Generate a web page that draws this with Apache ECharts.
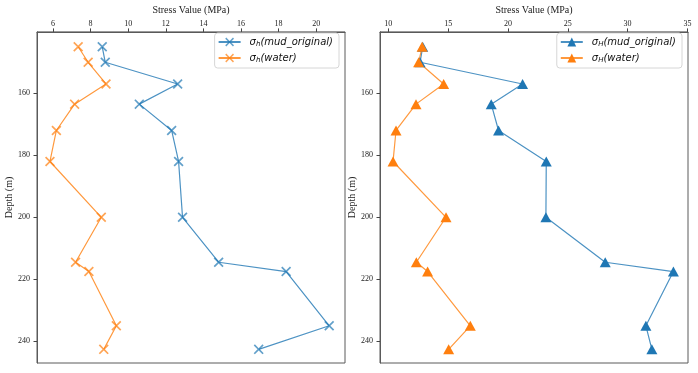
<!DOCTYPE html>
<html>
<head>
<meta charset="utf-8">
<script src="https://cdn.jsdelivr.net/npm/echarts@6/dist/echarts.min.js"></script>
<style>
  html, body { margin: 0; padding: 0; background: #fff; }
  #main { width: 698px; height: 373px; }
</style>
</head>
<body>
<div id="main"></div>
<script>
// depths (m) and stress values (MPa)
var depth = [145, 150, 157, 163.5, 172, 182, 200, 214.5, 217.5, 235, 242.6];
var shMud = [8.62, 8.78, 12.63, 10.59, 12.31, 12.68, 12.89, 14.81, 18.40, 20.69, 16.94];
var shWater = [7.34, 7.87, 8.82, 7.15, 6.18, 5.84, 8.57, 7.20, 7.91, 9.37, 8.70];
var bigHMud = [12.87, 12.65, 21.22, 18.6, 19.21, 23.2, 23.17, 28.13, 33.83, 31.53, 32.03];
var bigHWater = [12.82, 12.53, 14.62, 12.31, 10.64, 10.39, 14.82, 12.34, 13.28, 16.85, 15.04];

var depthTicks = [160, 180, 200, 220, 240];
var leftTicks = [6, 8, 10, 12, 14, 16, 18, 20];
var rightTicks = [10, 15, 20, 25, 30, 35];

var legendText = {
  sh_mud: 'σ{s|h}(mud_original)',
  sh_water: 'σ{s|h}(water)',
  sH_mud: 'σ{s|H}(mud_original)',
  sH_water: 'σ{s|H}(water)'
};

function pairs(xs) {
  return xs.map(function (v, i) { return [v, depth[i]]; });
}

var serif = 'Liberation Serif, Times New Roman, serif';
var frame = '#5a5a5a';
var blue = '#1f77b4', orange = '#ff7f0e';
var xMark = 'path://M0,1.2L1.2,0L5,3.8L8.8,0L10,1.2L6.2,5L10,8.8L8.8,10L5,6.2L1.2,10L0,8.8L3.8,5Z';

function xAxisOf(idx, min, max, ticks) {
  return {
    gridIndex: idx, type: 'value', position: 'top', min: min, max: max,
    name: 'Stress Value (MPa)', nameLocation: 'middle', nameGap: 16,
    nameTextStyle: { fontFamily: serif, fontSize: 10, color: '#222' },
    axisLine: { show: true, lineStyle: { color: frame, width: 1 } },
    axisTick: { show: true, length: 3.5, lineStyle: { color: '#444' }, customValues: ticks },
    axisLabel: { fontFamily: serif, fontSize: 8, color: '#222', margin: 4, customValues: ticks },
    splitLine: { show: false }
  };
}

function yAxisOf(idx) {
  return {
    gridIndex: idx, type: 'value', inverse: true, min: 140.2, max: 247,
    name: 'Depth (m)', nameLocation: 'middle', nameGap: 22, nameRotate: 90,
    nameTextStyle: { fontFamily: serif, fontSize: 10, color: '#222' },
    axisLine: { show: true, lineStyle: { color: frame, width: 1 } },
    axisTick: { show: true, length: 3.5, lineStyle: { color: '#444' }, customValues: depthTicks },
    axisLabel: { fontFamily: serif, fontSize: 8, color: '#222', margin: 7, customValues: depthTicks },
    splitLine: { show: false }
  };
}

function legendOf(names, right) {
  return {
    data: names, orient: 'vertical', top: 33, right: right,
    itemWidth: 22, itemHeight: 11, itemGap: 5,
    padding: [4, 6, 4, 3],
    backgroundColor: '#fff', borderColor: '#d6d6d6', borderWidth: 1, borderRadius: 3,
    formatter: function (n) { return legendText[n]; },
    textStyle: {
      fontFamily: 'DejaVu Sans', fontStyle: 'italic', fontSize: 10, color: '#111',
      padding: [0, 0, 0, 4],
      rich: { s: { fontFamily: 'DejaVu Sans', fontStyle: 'italic', fontSize: 7, verticalAlign: 'bottom', padding: [5, 0, 0, 0] } }
    }
  };
}

var myChart = echarts.init(document.getElementById('main'), null, { renderer: 'canvas' });
var option = {
  animation: false,
  backgroundColor: '#fff',
  grid: [
    { left: 37, right: 353, top: 28, bottom: 10, show: true, borderColor: frame, borderWidth: 1 },
    { left: 380, right: 10, top: 28, bottom: 10, show: true, borderColor: frame, borderWidth: 1 }
  ],
  xAxis: [xAxisOf(0, 5.15, 21.53, leftTicks), xAxisOf(1, 9.3, 35.05, rightTicks)],
  yAxis: [yAxisOf(0), yAxisOf(1)],
  legend: [legendOf(['sh_mud', 'sh_water'], 359), legendOf(['sH_mud', 'sH_water'], 16)],
  series: [
    {
      name: 'sh_mud', type: 'line', xAxisIndex: 0, yAxisIndex: 0, data: pairs(shMud),
      symbol: xMark, symbolSize: 10, color: blue,
      lineStyle: { width: 1.2, opacity: 0.8 }, itemStyle: { opacity: 0.7 }
    },
    {
      name: 'sh_water', type: 'line', xAxisIndex: 0, yAxisIndex: 0, data: pairs(shWater),
      symbol: xMark, symbolSize: 10, color: orange,
      lineStyle: { width: 1.2, opacity: 0.8 }, itemStyle: { opacity: 0.7 }
    },
    {
      name: 'sH_mud', type: 'line', xAxisIndex: 1, yAxisIndex: 1, data: pairs(bigHMud),
      symbol: 'triangle', symbolSize: [11, 10], color: blue,
      lineStyle: { width: 1.2, opacity: 0.8 }
    },
    {
      name: 'sH_water', type: 'line', xAxisIndex: 1, yAxisIndex: 1, data: pairs(bigHWater),
      symbol: 'triangle', symbolSize: [11, 10], color: orange,
      lineStyle: { width: 1.2, opacity: 0.8 }
    }
  ]
};
myChart.setOption(option);
</script>
</body>
</html>
